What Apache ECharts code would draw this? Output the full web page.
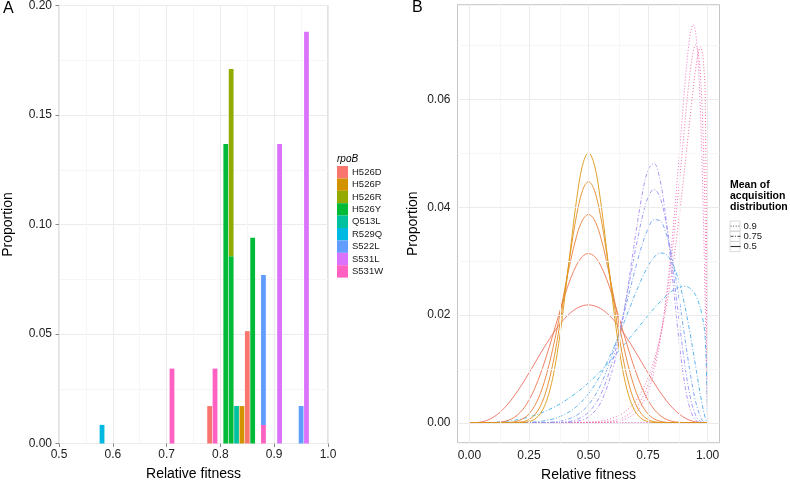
<!DOCTYPE html>
<html><head><meta charset="utf-8">
<script src="https://cdn.jsdelivr.net/npm/echarts@6/dist/echarts.min.js"></script>
<style>html,body{margin:0;padding:0;background:#fff}#c{width:790px;height:482px}</style>
</head><body><div id="c"></div>
<script>
const FONT = '"Liberation Sans", Arial, Helvetica, sans-serif';

// ---------- Panel A data ----------
const genotypes = ['H526D','H526P','H526R','H526Y','Q513L','R529Q','S522L','S531L','S531W'];
const genotypeColors = ['#F8766D','#D39200','#93AA00','#00BA38','#00C19F','#00B9E3','#619CFF','#DB72FB','#FF61C3'];
const fitnessBins = [0.58, 0.71, 0.78, 0.79, 0.81, 0.82, 0.83, 0.84, 0.85, 0.86, 0.88, 0.91, 0.95, 0.96];
const propH526D = [0, 0, 0.0171, 0, 0, 0, 0, 0, 0.0513, 0, 0, 0, 0, 0];
const propH526P = [0, 0, 0, 0, 0, 0, 0, 0.0171, 0, 0, 0, 0, 0, 0];
const propH526R = [0, 0, 0, 0, 0, 0.0855, 0, 0, 0, 0, 0, 0, 0, 0];
const propH526Y = [0, 0, 0, 0, 0.1368, 0.0855, 0, 0, 0, 0.0940, 0, 0, 0, 0];
const propQ513L = [0, 0, 0, 0, 0, 0, 0.0171, 0, 0, 0, 0, 0, 0, 0];
const propR529Q = [0.0085, 0, 0, 0, 0, 0, 0, 0, 0, 0, 0, 0, 0, 0];
const propS522L = [0, 0, 0, 0, 0, 0, 0, 0, 0, 0, 0.0684, 0, 0.0171, 0];
const propS531L = [0, 0, 0, 0, 0, 0, 0, 0, 0, 0, 0, 0.1368, 0, 0.1880];
const propS531W = [0, 0.0342, 0, 0.0342, 0, 0, 0, 0, 0, 0, 0.0085, 0, 0, 0];
const propsByGenotype = [propH526D, propH526P, propH526R, propH526Y, propQ513L, propR529Q, propS522L, propS531L, propS531W];
const binWidthA = 0.0089;

// ---------- Panel B data ----------
const xMid = [0,0.025,0.05,0.075,0.1,0.125,0.15,0.175,0.2,0.225,0.25,0.275,0.3,0.325,0.35,0.375,0.4,0.425,0.45,0.475,0.5,0.525,0.55,0.575,0.6,0.625,0.65,0.675,0.7,0.725,0.75,0.775,0.8,0.825,0.85,0.875,0.9,0.925,0.95,0.975,1];
const mid_a4  = [0,0.00002,0.00015,0.00047,0.00102,0.00183,0.0029,0.00421,0.00573,0.00742,0.00923,0.0111,0.01297,0.01478,0.01648,0.01803,0.01935,0.02043,0.02123,0.02171,0.02188,0.02171,0.02123,0.02043,0.01935,0.01803,0.01648,0.01478,0.01297,0.0111,0.00923,0.00742,0.00573,0.00421,0.0029,0.00183,0.00102,0.00047,0.00015,0.00002,0];
const mid_a8  = [0,0,0,0,0.00002,0.0001,0.00028,0.00067,0.00138,0.00252,0.00419,0.00645,0.00927,0.01259,0.01624,0.02,0.02361,0.02679,0.02929,0.03087,0.03142,0.03087,0.02929,0.02679,0.02361,0.02,0.01624,0.01259,0.00927,0.00645,0.00419,0.00252,0.00138,0.00067,0.00028,0.0001,0.00002,0,0,0,0];
const mid_a12 = [0,0,0,0,0,0,0.00002,0.00009,0.00029,0.00074,0.00163,0.00321,0.00568,0.00919,0.01371,0.01902,0.02469,0.03011,0.03463,0.03763,0.03868,0.03763,0.03463,0.03011,0.02469,0.01902,0.01371,0.00919,0.00568,0.00321,0.00163,0.00074,0.00029,0.00009,0.00002,0,0,0,0,0,0];
const mid_a16 = [0,0,0,0,0,0,0,0.00001,0.00006,0.0002,0.0006,0.0015,0.00328,0.00631,0.01088,0.01701,0.02428,0.03183,0.03851,0.04313,0.04478,0.04313,0.03851,0.03183,0.02428,0.01701,0.01088,0.00631,0.00328,0.0015,0.0006,0.0002,0.00006,0.00001,0,0,0,0,0,0,0];
const mid_a20 = [0,0,0,0,0,0,0,0,0.00001,0.00005,0.00021,0.00068,0.00183,0.00419,0.00836,0.01471,0.02309,0.03254,0.04143,0.04782,0.05015,0.04782,0.04143,0.03254,0.02309,0.01471,0.00836,0.00419,0.00183,0.00068,0.00021,0.00005,0.00001,0,0,0,0,0,0,0,0];

const xHigh = [0,0.05,0.1,0.15,0.2,0.25,0.3,0.35,0.4,0.45,0.5,0.55,0.6,0.625,0.65,0.675,0.7,0.725,0.75,0.775,0.8,0.825,0.85,0.875,0.9,0.925,0.95,0.975,0.99,1];
const high_a4  = [0,0.00001,0.00007,0.00024,0.00056,0.00106,0.0018,0.00278,0.00404,0.00559,0.00743,0.00955,0.01192,0.01319,0.0145,0.01584,0.0172,0.01857,0.01991,0.02121,0.02243,0.02353,0.02445,0.02509,0.02535,0.025,0.02366,0.0203,0.01566,0];
const high_a8  = [0,0,0,0,0.00002,0.00008,0.00027,0.00069,0.00154,0.00303,0.0054,0.00884,0.01335,0.01596,0.01872,0.02155,0.02432,0.02689,0.02909,0.0307,0.03151,0.03128,0.02982,0.02695,0.02263,0.01698,0.01041,0.00393,0.00095,0];
const high_a12 = [0,0,0,0,0,0.00001,0.00003,0.00014,0.00049,0.00139,0.00333,0.00693,0.01268,0.01637,0.02048,0.02484,0.02915,0.03303,0.03603,0.03768,0.03752,0.03526,0.03083,0.02454,0.01713,0.00977,0.00388,0.00065,0.00005,0];
const high_a16 = [0,0,0,0,0,0,0,0.00003,0.00015,0.0006,0.00193,0.0051,0.01128,0.01574,0.02101,0.02685,0.03275,0.03802,0.04184,0.04333,0.04188,0.03725,0.02989,0.02095,0.01216,0.00527,0.00136,0.0001,0,0];
const high_a20 = [0,0,0,0,0,0,0,0,0.00004,0.00025,0.00108,0.00362,0.0097,0.01462,0.02083,0.02803,0.03555,0.04229,0.04693,0.04816,0.04516,0.03803,0.02799,0.01728,0.00833,0.00275,0.00046,0.00001,0,0];

const xTop = [0,0.1,0.2,0.3,0.4,0.45,0.5,0.55,0.6,0.65,0.7,0.725,0.75,0.775,0.8,0.825,0.85,0.875,0.9,0.91,0.92,0.93,0.94,0.95,0.96,0.97,0.98,0.99,1];
const top_a12 = [0,0,0,0,0.00001,0.00004,0.00012,0.00033,0.00084,0.00193,0.00415,0.00593,0.00834,0.01155,0.01575,0.02113,0.02788,0.03609,0.04567,0.04979,0.054,0.05817,0.06215,0.06571,0.06844,0.0697,0.06816,0.06049,0];
const top_a16 = [0,0,0,0,0,0,0.00003,0.00011,0.00036,0.00107,0.0029,0.00458,0.00708,0.01066,0.01567,0.02241,0.0311,0.04169,0.05348,0.05816,0.06252,0.06628,0.06901,0.0702,0.06904,0.06449,0.05487,0.03726,0];
const top_a20 = [0,0,0,0,0,0,0.00001,0.00003,0.00015,0.00058,0.00195,0.00342,0.00579,0.00949,0.01503,0.02291,0.03346,0.04644,0.06038,0.06549,0.06981,0.07281,0.0739,0.07231,0.06717,0.05754,0.04259,0.02214,0];
const xFlat = [0, 0.99];
const flatZero = [0, 0];

const meanLabels = ['0.9', '0.75', '0.5'];
const ticksXB = [0, 0.25, 0.5, 0.75, 1];
const minorXB = [0.125, 0.375, 0.625, 0.875];
const ticksYB = [0, 0.02, 0.04, 0.06];
const minorYB = [0.01, 0.03, 0.05, 0.07];

// ---------- build ----------
const chart = echarts.init(document.getElementById('c'), null, {renderer: 'canvas'});

// ggplot stacks the first level on top, so accumulate from the last level upward
const stackBase = fitnessBins.map(() => 0);
const barSeries = [];
for (let g = genotypes.length - 1; g >= 0; g--) {
  const items = [];
  fitnessBins.forEach((x, i) => {
    const v = propsByGenotype[g][i];
    if (v > 0) { items.push([x, stackBase[i], stackBase[i] + v]); stackBase[i] += v; }
  });
  barSeries.push({
    type: 'custom', name: genotypes[g], xAxisIndex: 0, yAxisIndex: 0, z: 3,
    itemStyle: {color: genotypeColors[g]},
    encode: {x: 0, y: [1, 2]},
    data: items,
    renderItem: (params, api) => {
      const x = api.value(0);
      const p0 = api.coord([x, api.value(1)]);
      const p1 = api.coord([x, api.value(2)]);
      const w = api.size([binWidthA, 0])[0];
      return {type: 'rect', shape: {x: p0[0] - w / 2, y: p1[1], width: w, height: p0[1] - p1[1]},
              style: {fill: genotypeColors[g]}};
    }
  });
}

const curveDefs = [
  {grp: '0.9',  x: xFlat, y: flatZero, color: '#F064B4', dash: [1, 2]},
  {grp: '0.9',  x: xFlat, y: flatZero, color: '#EE66C6', dash: [1, 2]},
  {grp: '0.9',  x: xTop,  y: top_a12, color: '#F06090', dash: [1, 2]},
  {grp: '0.9',  x: xTop,  y: top_a16, color: '#EF61A6', dash: [1, 2]},
  {grp: '0.9',  x: xTop,  y: top_a20, color: '#EC64BC', dash: [1, 2]},
  {grp: '0.75', x: xHigh, y: high_a4,  color: '#3FB3E6', dash: [4, 2, 1, 2]},
  {grp: '0.75', x: xHigh, y: high_a8,  color: '#4CA9EA', dash: [4, 2, 1, 2]},
  {grp: '0.75', x: xHigh, y: high_a12, color: '#6E9EF0', dash: [4, 2, 1, 2]},
  {grp: '0.75', x: xHigh, y: high_a16, color: '#9192F2', dash: [4, 2, 1, 2]},
  {grp: '0.75', x: xHigh, y: high_a20, color: '#A88AF4', dash: [4, 2, 1, 2]},
  {grp: '0.5',  x: xMid,  y: mid_a4,  color: '#EE6E62', dash: 'solid'},
  {grp: '0.5',  x: xMid,  y: mid_a8,  color: '#EC7650', dash: 'solid'},
  {grp: '0.5',  x: xMid,  y: mid_a12, color: '#E8803C', dash: 'solid'},
  {grp: '0.5',  x: xMid,  y: mid_a16, color: '#E38B22', dash: 'solid'},
  {grp: '0.5',  x: xMid,  y: mid_a20, color: '#DD9812', dash: 'solid'}
];
const lineSeries = curveDefs.map(d => ({
  type: 'line', name: d.grp, xAxisIndex: 1, yAxisIndex: 1,
  symbol: 'none', smooth: 0.35, z: 3,
  lineStyle: {color: d.color, width: 0.9, type: d.dash},
  itemStyle: {color: d.color},
  data: d.x.map((x, i) => [x, d.y[i]])
}));

const majorLine = {color: '#EBEBEB', width: 1, type: 'solid'};
const minorLine = {color: '#F6F6F6', width: 1, type: 'solid'};
const gridSeriesB = {
  type: 'line', name: 'gridB', xAxisIndex: 1, yAxisIndex: 1, data: [], silent: true, z: 1,
  markLine: {
    silent: true, symbol: ['none', 'none'], label: {show: false}, animation: false,
    lineStyle: {type: 'solid'},
    data: [].concat(
      minorXB.map(v => ({xAxis: v, lineStyle: minorLine})),
      minorYB.map(v => ({yAxis: v, lineStyle: minorLine})),
      ticksXB.map(v => ({xAxis: v, lineStyle: majorLine})),
      ticksYB.map(v => ({yAxis: v, lineStyle: majorLine}))
    )
  }
};

const axisText = {color: '#222', fontSize: 12, fontFamily: FONT};
const nameText = {color: '#000', fontSize: 14, fontFamily: FONT};
const tickStyle = {show: true, length: 3.5, lineStyle: {color: '#8a8a8a'}};
const hiddenIcon = {color: 'rgba(0,0,0,0)', borderWidth: 0, opacity: 0};

const option = {
  animation: false,
  backgroundColor: '#fff',
  textStyle: {fontFamily: FONT},
  grid: [
    {left: 59, top: 5.5, width: 269, height: 438, outerBoundsMode: 'none', containLabel: false,
     show: true, borderColor: '#C4C4C4', borderWidth: 1, backgroundColor: 'transparent'},
    {left: 457.5, top: 4.7, width: 262, height: 438, outerBoundsMode: 'none', containLabel: false,
     show: true, borderColor: '#C4C4C4', borderWidth: 1, backgroundColor: 'transparent'}
  ],
  xAxis: [
    {type: 'value', gridIndex: 0, min: 0.5, max: 1.0, interval: 0.1,
     name: 'Relative fitness', nameLocation: 'middle', nameGap: 24, nameTextStyle: nameText,
     axisLine: {show: false}, axisTick: tickStyle,
     axisLabel: Object.assign({margin: 5.5, formatter: v => v.toFixed(1)}, axisText),
     splitLine: {show: true, lineStyle: majorLine},
     minorTick: {show: false, splitNumber: 2}, minorSplitLine: {show: true, lineStyle: minorLine}},
    {type: 'value', gridIndex: 1, min: -0.05, max: 1.05,
     name: 'Relative fitness', nameLocation: 'middle', nameGap: 25.5, nameTextStyle: nameText,
     axisLine: {show: false}, axisTick: Object.assign({customValues: ticksXB}, tickStyle),
     axisLabel: Object.assign({margin: 6.5, customValues: ticksXB, formatter: v => v.toFixed(2)}, axisText),
     splitLine: {show: false}}
  ],
  yAxis: [
    {type: 'value', gridIndex: 0, min: 0, max: 0.2, interval: 0.05,
     name: 'Proportion', nameLocation: 'middle', nameGap: 44, nameTextStyle: nameText,
     axisLine: {show: false}, axisTick: tickStyle,
     axisLabel: Object.assign({margin: 7, formatter: v => v.toFixed(2)}, axisText),
     splitLine: {show: true, lineStyle: majorLine},
     minorTick: {show: false, splitNumber: 2}, minorSplitLine: {show: true, lineStyle: minorLine}},
    {type: 'value', gridIndex: 1, min: -0.0037, max: 0.0776,
     name: 'Proportion', nameLocation: 'middle', nameGap: 37, nameTextStyle: nameText,
     axisLine: {show: false}, axisTick: Object.assign({customValues: ticksYB}, tickStyle),
     axisLabel: Object.assign({margin: 7, customValues: ticksYB, formatter: v => v.toFixed(2)}, axisText),
     splitLine: {show: false}}
  ],
  legend: [
    {orient: 'vertical', left: 337, top: 166, padding: 0, itemGap: 0, itemWidth: 11, itemHeight: 12.4,
     icon: 'rect', selectedMode: false,
     textStyle: {fontSize: 9.5, color: '#1a1a1a', fontFamily: FONT, lineHeight: 12.4, padding: [0, 0, 0, -1]},
     data: genotypes},
    {orient: 'vertical', left: 730, top: 221, padding: 0, itemGap: 0, itemWidth: 10, itemHeight: 10.2,
     selectedMode: false,
     textStyle: {fontSize: 9.5, color: '#1a1a1a', fontFamily: FONT, lineHeight: 10.2, padding: [0, 0, 0, -2]},
     data: [
       {name: meanLabels[0], itemStyle: hiddenIcon, lineStyle: {color: '#333', type: [1, 1.6], width: 0.9}},
       {name: meanLabels[1], itemStyle: hiddenIcon, lineStyle: {color: '#333', type: [3, 1.5, 1, 1.5], width: 0.9}},
       {name: meanLabels[2], itemStyle: hiddenIcon, lineStyle: {color: '#333', type: 'solid', width: 1.1}}
     ]}
  ],
  graphic: [
    {type: 'text', left: 3, top: 1, style: {text: 'A', fontSize: 16, fill: '#000', fontFamily: FONT}},
    {type: 'text', left: 412, top: 0, style: {text: 'B', fontSize: 16, fill: '#000', fontFamily: FONT}},
    {type: 'text', left: 337, top: 154, style: {text: 'rpoB', fontSize: 10, fontStyle: 'italic', fill: '#000', fontFamily: FONT}},
    {type: 'text', left: 730, top: 179, style: {text: 'Mean of\nacquisition\ndistribution', fontSize: 10.5, fontWeight: 'bold', lineHeight: 11.3, fill: '#000', fontFamily: FONT}},
    {type: 'rect', shape: {x: 730, y: 221, width: 10, height: 10.2}, style: {fill: 'none', stroke: '#D0D0D0', lineWidth: 0.8}, z: -1},
    {type: 'rect', shape: {x: 730, y: 231.2, width: 10, height: 10.2}, style: {fill: 'none', stroke: '#D0D0D0', lineWidth: 0.8}, z: -1},
    {type: 'rect', shape: {x: 730, y: 241.4, width: 10, height: 10.2}, style: {fill: 'none', stroke: '#D0D0D0', lineWidth: 0.8}, z: -1}
  ],
  series: [gridSeriesB].concat(barSeries, lineSeries)
};
chart.setOption(option);
</script>
</body></html>
